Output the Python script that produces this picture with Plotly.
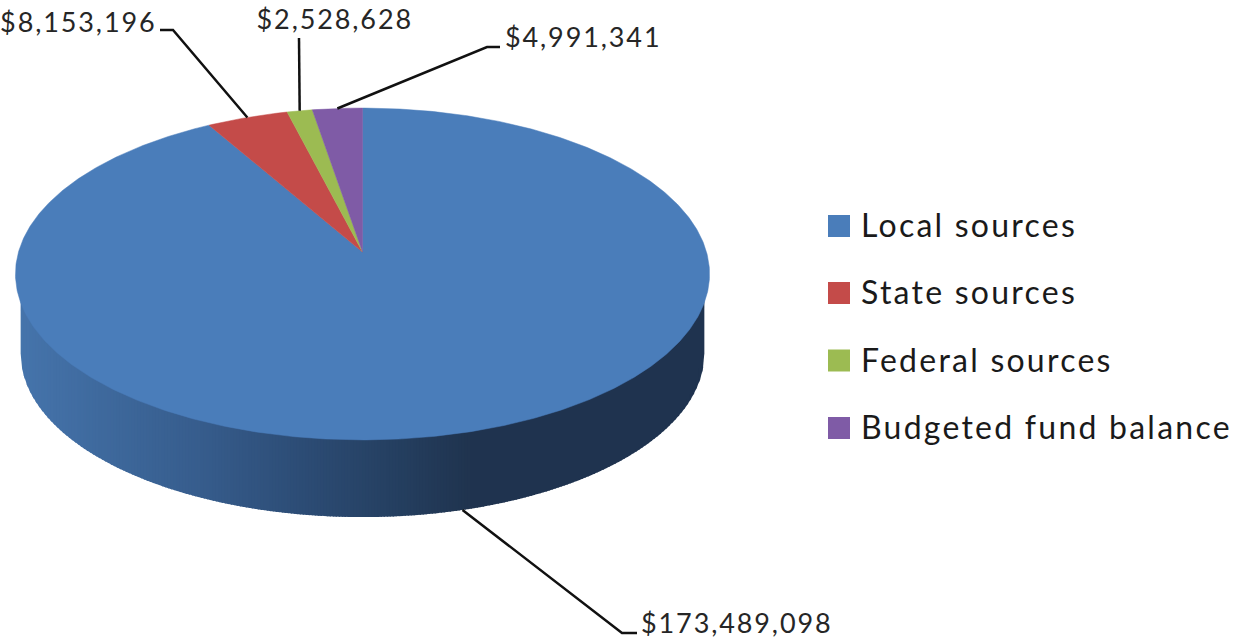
import numpy as np
import plotly.graph_objects as go

categories = ["Local sources", "State sources", "Federal sources", "Budgeted fund balance"]
values = [173489098, 8153196, 2528628, 4991341]
value_labels = ["$173,489,098", "$8,153,196", "$2,528,628", "$4,991,341"]
colors = ["#4a7dba", "#c44b49", "#9cbb52", "#7f5ba6"]

# Layout / style settings (pixel-like axis space)
W, H = 1234, 640
CX, CY = 362.5, 252
A, B, K = 344, 163, 0.1325
DEPTH_CY, DEPTH_S = 332, 0.985
side_stop_x = [17, 100, 200, 300, 400, 470, 710]
side_stop_rgb = [(70, 117, 172), (63, 106, 158), (55, 93, 141), (45, 77, 118),
                 (37, 63, 96), (32, 52, 79), (31, 51, 80)]
LABEL_FONT = "Lato, Carlito, 'Open Sans', sans-serif"
TEXT = "#262626"


def project(deg, scale=1.0, cy=CY):
    t = np.radians(deg)
    u, v = np.sin(t), -np.cos(t)
    d = 1 - K * v
    return CX + scale * A * u / d, cy + scale * B * v / d


fig = go.Figure()

# side wall: vertical gradient strips between the top rim and the lower rim
th_full = np.linspace(40, 320, 1401)
xt, yt = project(th_full)
xb, yb = project(th_full, DEPTH_S, DEPTH_CY)
it, ib = np.argmax(xt), np.argmax(xb)
jt, jb = np.argmin(xt), np.argmin(xb)
xt_f, yt_f = xt[it:jt + 1][::-1], yt[it:jt + 1][::-1]
xb_f, yb_f = xb[ib:jb + 1][::-1], yb[ib:jb + 1][::-1]
edges = np.arange(xb_f[0], xb_f[-1] + 3, 3.0)
edges[-1] = xb_f[-1]
for x0, x1 in zip(edges[:-1], edges[1:]):
    xm = (x0 + x1) / 2
    rgb = [np.interp(xm, side_stop_x, [c[i] for c in side_stop_rgb]) for i in range(3)]
    col = "rgb(%d,%d,%d)" % tuple(rgb)
    xs = np.linspace(x0, min(x1 + 1.5, xb_f[-1]), 4)
    top = np.interp(xs, xt_f, yt_f) - 2
    bot = np.interp(xs, xb_f, yb_f)
    fig.add_trace(go.Scatter(
        x=np.r_[xs, xs[::-1], xs[0]], y=np.r_[top, bot[::-1], top[0]],
        mode="lines", fill="toself", fillcolor=col, line=dict(color=col, width=0),
        hoverinfo="skip", showlegend=False))

# top face: clockwise from 12 o'clock
total = sum(values)
angles = np.cumsum([0] + [v / total * 360 for v in values])
mids = (angles[:-1] + angles[1:]) / 2
for i, cat in enumerate(categories):
    arc = np.linspace(angles[i], angles[i + 1], max(int(angles[i + 1] - angles[i]) * 2, 12))
    ax, ay = project(arc)
    fig.add_trace(go.Scatter(
        x=np.r_[CX, ax, CX], y=np.r_[CY, ay, CY], mode="lines", fill="toself",
        fillcolor=colors[i], line=dict(color=colors[i], width=0.5),
        name=cat, hoverinfo="name", showlegend=False))

# leader lines: anchored on each slice's mid angle, then elbow towards the label
elbows = [[(622, 633), (637, 633)], [(173, 30), (160, 30)], [(299, 38)], [(487, 47), (500, 47)]]
label_pos = [(639, 622, "left"), (159, 21, "right"), (335, 18, "center"), (503, 36, "left")]
for i in range(4):
    if i == 0:
        x0, y0 = project(mids[i], DEPTH_S, DEPTH_CY)
    else:
        x0, y0 = project(mids[i])
    xs = [x0] + [p[0] for p in elbows[i]]
    ys = [y0] + [p[1] for p in elbows[i]]
    fig.add_trace(go.Scatter(x=xs, y=ys, mode="lines", line=dict(color="#111111", width=2.5),
                             hoverinfo="skip", showlegend=False))
    lx, ly, anc = label_pos[i]
    fig.add_annotation(x=lx, y=ly, text=value_labels[i], showarrow=False, xanchor=anc, align=anc,
                       yanchor="middle", font=dict(family=LABEL_FONT, size=27, color=TEXT))

# legend
legend_y = [226, 293, 360.5, 428]
fig.add_trace(go.Scatter(x=[839] * 4, y=legend_y, mode="markers",
                         marker=dict(symbol="square", size=22, color=colors, line=dict(width=0)),
                         hoverinfo="skip", showlegend=False))
for cat, y in zip(categories, legend_y):
    fig.add_annotation(x=859, y=y - 1.5, text=cat, showarrow=False, xanchor="left", align="left",
                       yanchor="middle", font=dict(family=LABEL_FONT, size=32, color="#1a1a1a"))

fig.update_layout(
    width=W, height=H, margin=dict(l=0, r=0, t=0, b=0),
    paper_bgcolor="white", plot_bgcolor="white", showlegend=False,
    xaxis=dict(range=[0, W], visible=False, fixedrange=True),
    yaxis=dict(range=[H, 0], visible=False, fixedrange=True),
)
post = """
document.body.style.margin = '0';
var s = document.createElement('style');
s.textContent = '.annotation-text{letter-spacing:0.07em}';
document.head.appendChild(s);
"""
fig.write_html("out.html", config=dict(displayModeBar=False), post_script=post)
